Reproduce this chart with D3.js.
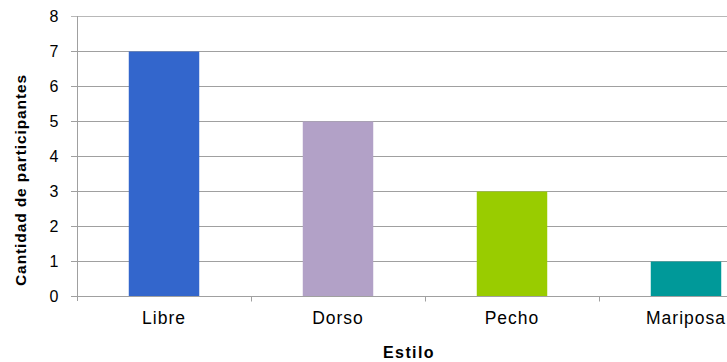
<!DOCTYPE html>
<html>
<head>
<meta charset="utf-8">
<script src="https://cdn.jsdelivr.net/npm/d3@7"></script>
<style>
  html, body { margin: 0; padding: 0; background: #fff; }
  svg { display: block; }
  text { font-family: Arial, "Liberation Sans", sans-serif; fill: #000; }
</style>
</head>
<body>
<svg id="chart" width="727" height="362"></svg>
<script>
// Participantes por estilo de natación
const categories = ["Libre", "Dorso", "Pecho", "Mariposa"];
const values = [7, 5, 3, 1];
const barColors = ["#3366CC", "#B2A1C7", "#99CC00", "#009999"];
const yTicks = [0, 1, 2, 3, 4, 5, 6, 7, 8];
const xTitle = "Estilo";
const yTitle = "Cantidad de participantes";

const svg = d3.select("#chart");
const plot = { left: 77, right: 773, top: 16, bottom: 296 };

const x = d3.scaleBand().domain(categories).range([plot.left, plot.right]).padding(0);
const y = d3.scaleLinear().domain([0, 8]).range([plot.bottom, plot.top]);
const barW = x.bandwidth() * 0.405;

// horizontal gridlines with their left tick stubs
svg.append("g")
  .selectAll("line")
  .data(yTicks.filter(d => d > 0))
  .join("line")
  .attr("x1", plot.left - 6)
  .attr("x2", 727)
  .attr("y1", d => Math.round(y(d)) + 0.5)
  .attr("y2", d => Math.round(y(d)) + 0.5)
  .attr("stroke", d => d === 8 ? "#b8b8b8" : "#a0a0a0")
  .attr("stroke-width", 1);

// bars
svg.append("g")
  .selectAll("rect")
  .data(categories)
  .join("rect")
  .attr("x", d => x(d) + x.bandwidth() / 2 - barW / 2)
  .attr("width", barW)
  .attr("y", (d, i) => Math.round(y(values[i])) + 0.5)
  .attr("height", (d, i) => y(0) - Math.round(y(values[i])) - 0.5)
  .attr("fill", (d, i) => barColors[i]);

// y axis
const yAxis = svg.append("g")
  .attr("transform", `translate(${plot.left + 0.5},0)`)
  .call(d3.axisLeft(y).tickValues(yTicks).tickSize(0).tickPadding(19).tickFormat(d3.format("d")));
yAxis.select(".domain").remove();
yAxis.selectAll("text")
  .attr("font-size", 16)
  .attr("dy", "0.36em")
  .style("font-family", "Arial, 'Liberation Sans', sans-serif");
yAxis.append("line")
  .attr("x1", 0).attr("x2", 0)
  .attr("y1", plot.top).attr("y2", plot.bottom + 5)
  .attr("stroke", "#a0a0a0");

// x axis baseline and category separators
const xAxis = svg.append("g")
  .attr("transform", `translate(0,${plot.bottom + 0.5})`);
xAxis.append("line")
  .attr("x1", plot.left - 6).attr("x2", 727)
  .attr("y1", 0).attr("y2", 0)
  .attr("stroke", "#a0a0a0");
xAxis.selectAll("line.sep")
  .data(categories.slice(1))
  .join("line")
  .attr("class", "sep")
  .attr("x1", d => Math.round(x(d)) + 0.5)
  .attr("x2", d => Math.round(x(d)) + 0.5)
  .attr("y1", 0).attr("y2", 5)
  .attr("stroke", "#a0a0a0");
xAxis.selectAll("text")
  .data(categories)
  .join("text")
  .attr("x", d => x(d) + x.bandwidth() / 2)
  .attr("y", 27)
  .attr("text-anchor", "middle")
  .attr("font-size", 17.5)
  .attr("letter-spacing", "1px")
  .text(d => d);

// axis titles
svg.append("text")
  .attr("x", 409)
  .attr("y", 357.5)
  .attr("text-anchor", "middle")
  .attr("font-size", 16)
  .attr("font-weight", "bold")
  .attr("letter-spacing", "1.4px")
  .text(xTitle);

svg.append("text")
  .attr("transform", "translate(26,180) rotate(-90)")
  .attr("text-anchor", "middle")
  .attr("font-size", 15.5)
  .attr("font-weight", "bold")
  .attr("letter-spacing", "0.9px")
  .text(yTitle);
</script>
</body>
</html>
